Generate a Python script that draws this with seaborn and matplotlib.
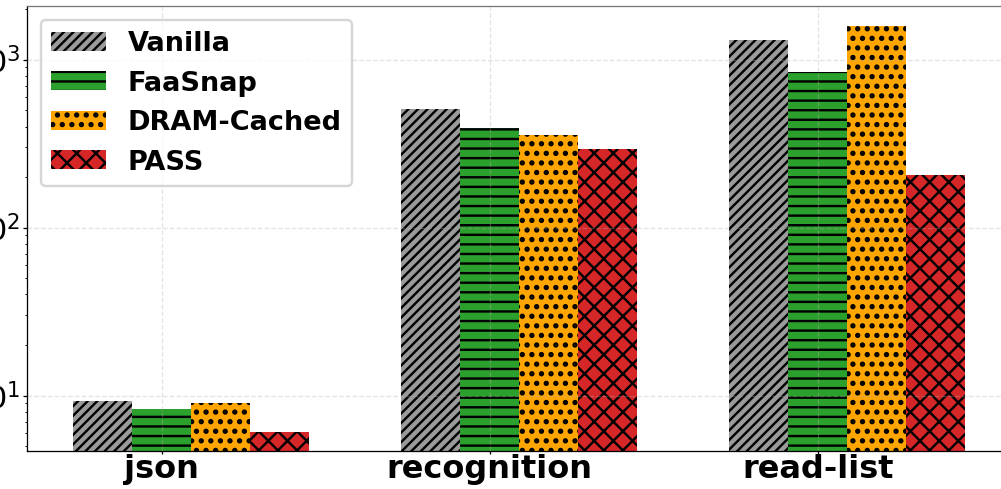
import numpy as np
import pandas as pd
import matplotlib
matplotlib.use("Agg")
import matplotlib.pyplot as plt
import seaborn as sns
from matplotlib.patches import Patch

# Workloads on the x axis and the systems compared for each of them
workloads = ["json", "recognition", "read-list"]
systems = ["Vanilla", "FaaSnap", "DRAM-Cached", "PASS"]

# Latency per system (log scale)
vanilla = [9.3, 510, 1310]
faasnap = [8.3, 390, 840]
dram_cached = [9.0, 355, 1580]
pass_sys = [6.1, 293, 206]

colors = ["#9a9a9a", "#2ca02c", "#ffa500", "#d62728"]
hatches = ["////", "--", "..", "xx"]
# dots get a heavier hatch stroke so they read as solid discs
hatch_widths = [1.5, 1.5, 2.1, 1.5]

df = pd.DataFrame({
    "workload": workloads * 4,
    "system": np.repeat(systems, len(workloads)),
    "value": vanilla + faasnap + dram_cached + pass_sys,
})

DPI = 115
plt.rcParams["hatch.linewidth"] = 1.5
fig = plt.figure(figsize=(1001.4 / DPI, 489.4 / DPI), dpi=DPI)
ax = fig.add_axes([27 / 1001, 38.3 / 489, 984 / 1001, 444.2 / 489])

group_width = 0.72
sns.barplot(data=df, x="workload", y="value", hue="system", order=workloads,
            hue_order=systems, palette=colors, width=group_width, dodge=True,
            errorbar=None, saturation=1, ax=ax, legend=False)


def style_patch(patch, hatch, hlw):
    patch.set_edgecolor("black")
    patch.set_linewidth(0)
    patch.set_hatch(hatch)
    if hasattr(patch, "set_hatch_linewidth"):
        patch.set_hatch_linewidth(hlw)


for container, hatch, hlw in zip(ax.containers, hatches, hatch_widths):
    for bar in container:
        style_patch(bar, hatch, hlw)

ax.set_yscale("log")
ax.set_ylim(4.7, 2084)
ax.set_xlim(-0.5, len(workloads) - 0.5)

bar_w = group_width / len(systems)
ax.set_xticks(np.arange(len(workloads)) - bar_w / 2)
ax.set_xticklabels(workloads, fontsize=20, fontweight="bold")
ax.tick_params(axis="x", length=2, pad=0)
ax.tick_params(axis="y", which="major", labelsize=19, length=2.2, pad=2)
ax.tick_params(axis="y", which="minor", length=1.4)
ax.set_xlabel("")
ax.set_ylabel("")

ax.grid(True, which="major", linestyle="--", linewidth=0.8, color="#b0b0b0", alpha=0.35)
for bar in ax.patches:
    bar.set_zorder(1)
for line in ax.get_xgridlines() + ax.get_ygridlines():
    line.set_zorder(1.5)
ax.spines["top"].set_color("#777777")

handles = []
for c, h, hlw, s in zip(colors, hatches, hatch_widths, systems):
    p = Patch(facecolor=c, label=s)
    style_patch(p, h, hlw)
    handles.append(p)
leg = ax.legend(handles=handles, loc="upper left", prop={"weight": "bold", "size": 17})
leg.get_frame().set_linewidth(1.5)
for lp, h, hlw in zip(leg.get_patches(), hatches, hatch_widths):
    style_patch(lp, h, hlw)

fig.savefig("out.png", dpi=DPI)
